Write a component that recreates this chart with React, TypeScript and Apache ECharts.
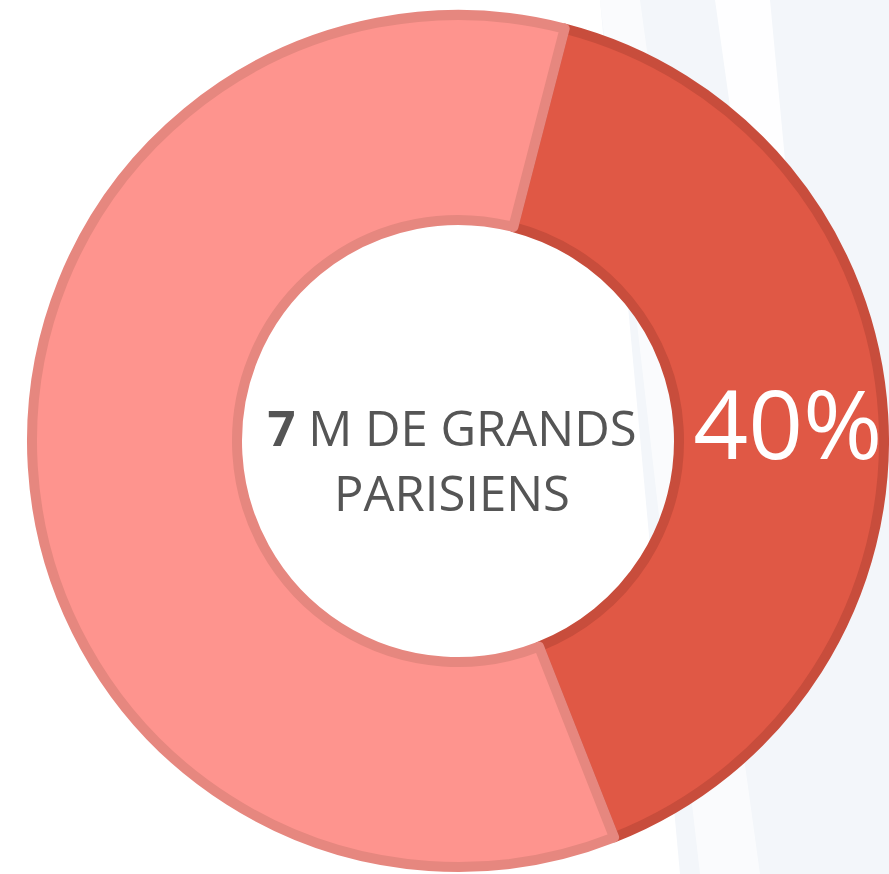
import React, { useEffect, useRef } from "react";
import * as echarts from "echarts";

const categories = ["Grands Parisiens concernés", "Autres"];
const values = [40, 60];
const fillColors = ["#e05845", "#fe948e"];
const borderColors = ["#c84d3c", "#e6877f"];
const centerBold = "7";
const centerLine1 = " M DE GRANDS";
const centerLine2 = "PARISIENS";

export default function App() {
  const ref = useRef<HTMLDivElement>(null);
  useEffect(() => {
    if (!ref.current) return;
    const chart = echarts.init(ref.current, null, { renderer: "svg" });
    chart.setOption({
      animation: false,
      backgroundColor: "#ffffff",
      graphic: [
        {
          type: "polygon",
          z: -10,
          shape: { points: [[600, 0], [889, 0], [889, 874], [680, 874]] },
          style: { fill: "#f3f6fa" },
        },
        {
          type: "polygon",
          z: -9,
          shape: { points: [[715, 0], [770, 0], [800, 320], [760, 320]] },
          style: { fill: "rgba(255,255,255,0.9)" },
        },
        {
          type: "polygon",
          z: -9,
          shape: { points: [[600, 0], [640, 0], [760, 874], [700, 874]] },
          style: { fill: "rgba(255,255,255,0.6)" },
        },
        {
          type: "text",
          z: 100,
          x: 452,
          y: 459,
          style: {
            text: "{b|" + centerBold + "}{n|" + centerLine1 + "}\n{n|" + centerLine2 + "}",
            align: "center",
            verticalAlign: "middle",
            rich: {
              b: { fontFamily: "Open Sans", fontSize: 49, fontWeight: "bold", fill: "#555555", lineHeight: 65 },
              n: { fontFamily: "Open Sans", fontSize: 49, fill: "#555555", lineHeight: 65 },
            },
          },
        },
      ],
      series: [
        {
          type: "pie",
          z: 2,
          center: [458, 441],
          radius: [221, 426],
          startAngle: 75.5,
          clockwise: true,
          avoidLabelOverlap: false,
          labelLine: { show: false },
          emphasis: { disabled: true },
          data: categories.map((name, i) => ({
            name,
            value: values[i],
            itemStyle: { color: fillColors[i], borderColor: borderColors[i], borderWidth: 10 },
            label: i === 0
              ? { show: true, position: "inside", formatter: "{c}%", color: "#ffffff", fontFamily: "Open Sans", fontSize: 96, offset: [4, 0] }
              : { show: false },
          })),
        },
      ],
    });
    return () => chart.dispose();
  }, []);
  return <div ref={ref} style={{ position: "absolute", left: 0, top: 0, width: 889, height: 874 }} />;
}
